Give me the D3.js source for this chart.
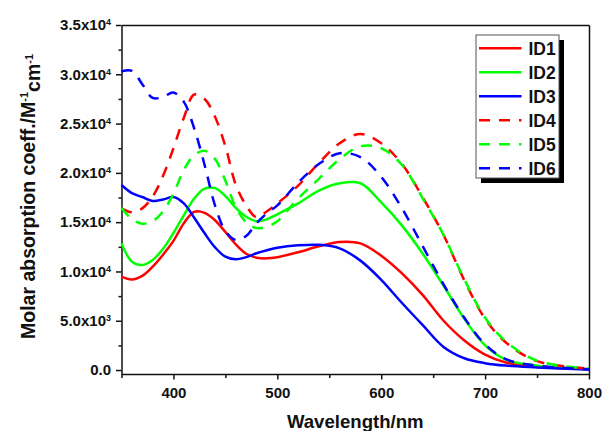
<!DOCTYPE html>
<html>
<head>
<meta charset="utf-8">
<script src="https://cdn.jsdelivr.net/npm/d3@7"></script>
<style>
  html, body { margin: 0; padding: 0; background: #fff; }
  svg { display: block; font-family: "Liberation Sans", Arial, sans-serif; font-weight: bold; }
</style>
</head>
<body>
<div id="chart"></div>
<script>
// wavelength grid (nm) shared by all six spectra
const wavelengths = [350, 360, 370, 380, 390, 400, 410, 420, 430, 440, 450, 460, 470, 480, 490, 500,
  520, 540, 560, 580, 600, 620, 640, 660, 680, 700, 720, 750, 800];

// molar absorption coefficients (M^-1 cm^-1)
const id1 = [9470, 9180, 9550, 10480, 11700, 13100, 14900, 16050, 15950, 15200, 14000, 12750, 11800, 11400, 11330, 11450,
  11950, 12550, 13000, 12850, 11600, 9800, 7600, 5000, 3000, 1570, 760, 330, 60];
const id2 = [12850, 11000, 10650, 11160, 12300, 13900, 15700, 17400, 18400, 18450, 17650, 16450, 15550, 15100, 15300, 15800,
  16900, 18200, 18950, 18950, 17000, 14650, 11800, 8550, 5200, 2500, 1050, 450, 80];
const id3 = [18770, 17950, 17550, 17150, 17300, 17550, 16900, 15450, 13870, 12450, 11500, 11230, 11450, 11850, 12150, 12400,
  12650, 12700, 12350, 11100, 9150, 6800, 4550, 2350, 1200, 700, 450, 270, 50];
const id4 = [16400, 16000, 16400, 17600, 19700, 22500, 25600, 27950, 27500, 25700, 22700, 18800, 16700, 15500, 16100, 16900,
  18700, 21000, 23000, 23950, 23000, 20900, 17500, 13700, 9100, 5200, 2800, 900, 150];
const id5 = [16430, 15300, 14850, 15100, 16100, 17900, 20300, 21800, 22250, 21400, 19200, 16500, 15000, 14400, 14550, 15100,
  17400, 19400, 21400, 22700, 22500, 20800, 17400, 13700, 9200, 5300, 2900, 950, 150];
const id6 = [30300, 30350, 29000, 27600, 27700, 28150, 27200, 24500, 20800, 16700, 14100, 13200, 13600, 14900, 15900, 16700,
  19000, 20900, 22000, 21600, 19600, 16400, 12550, 8700, 5300, 2600, 1100, 450, 80];

const seriesNames = ['ID1', 'ID2', 'ID3', 'ID4', 'ID5', 'ID6'];
const seriesValues = [id1, id2, id3, id4, id5, id6];

const xTicks = [400, 500, 600, 700, 800];
const xMinorTicks = [350, 450, 550, 650, 750];
const yTicks = [0, 5000, 10000, 15000, 20000, 25000, 30000, 35000];
const yMinorTicks = [2500, 7500, 12500, 17500, 22500, 27500, 32500];

const width = 603;
const height = 431;

// colour + dash for each series, by position
const colors = ['#ff0000', '#00ff00', '#0000ff', '#ff0000', '#00ff00', '#0000ff'];
const dashes = [null, null, null, '11,9', '11,9', '11,9'];

const svg = d3.select('#chart').append('svg')
  .attr('width', width)
  .attr('height', height);

const x = d3.scaleLinear().domain([350, 800]).range([121.5, 589]);
const y = d3.scaleLinear().domain([-400, 35000]).range([374, 25]);

// frame: top and right borders
svg.append('g')
  .attr('transform', `translate(0, ${y.range()[1]})`)
  .call(d3.axisTop(x).tickValues([]).tickSizeOuter(0))
  .call((g) => g.select('.domain').attr('stroke', '#111').attr('stroke-width', 1.5));
svg.append('g')
  .attr('transform', `translate(${x.range()[1]}, 0)`)
  .call(d3.axisRight(y).tickValues([]).tickSizeOuter(0))
  .call((g) => g.select('.domain').attr('stroke', '#111').attr('stroke-width', 1.5));

// x axis
svg.append('g')
  .attr('transform', `translate(0, ${y.range()[0]})`)
  .call(d3.axisBottom(x).tickValues(xMinorTicks).tickSize(4).tickSizeOuter(0).tickFormat(''))
  .call((g) => g.select('.domain').remove())
  .call((g) => g.selectAll('.tick line').attr('stroke', '#111').attr('stroke-width', 1.5));
const xAxis = svg.append('g')
  .attr('transform', `translate(0, ${y.range()[0]})`)
  .call(d3.axisBottom(x).tickValues(xTicks).tickSize(5.5).tickSizeOuter(0).tickPadding(8));
xAxis.select('.domain').attr('stroke', '#111').attr('stroke-width', 1.5);
xAxis.selectAll('.tick line').attr('stroke', '#111').attr('stroke-width', 1.5);
xAxis.selectAll('.tick text')
  .attr('fill', '#111')
  .style('font-size', '15px')
  .style('font-family', '"Liberation Sans", Arial, sans-serif')
  .style('font-weight', 'bold');

// y axis
svg.append('g')
  .attr('transform', `translate(${x.range()[0]}, 0)`)
  .call(d3.axisLeft(y).tickValues(yMinorTicks).tickSize(3).tickSizeOuter(0).tickFormat(''))
  .call((g) => g.select('.domain').remove())
  .call((g) => g.selectAll('.tick line').attr('stroke', '#111').attr('stroke-width', 1.5));
const yAxis = svg.append('g')
  .attr('transform', `translate(${x.range()[0]}, 0)`)
  .call(d3.axisLeft(y).tickValues(yTicks).tickSize(5.5).tickSizeOuter(0).tickPadding(5));
yAxis.select('.domain').attr('stroke', '#111').attr('stroke-width', 1.5);
yAxis.selectAll('.tick line').attr('stroke', '#111').attr('stroke-width', 1.5);
yAxis.selectAll('.tick text')
  .attr('fill', '#111')
  .style('font-size', '15px')
  .style('font-family', '"Liberation Sans", Arial, sans-serif')
  .style('font-weight', 'bold')
  .each(function (d) {
    const t = d3.select(this).text('');
    if (d === 0) {
      t.text('0.0');
      return;
    }
    const exp = Math.floor(Math.log10(d));
    const mant = (d / Math.pow(10, exp)).toFixed(1);
    t.append('tspan').text(mant + 'x10');
    t.append('tspan').attr('dy', '-0.55em').style('font-size', '9px').text(exp);
  });

// spectra
const line = d3.line()
  .x((d, i) => x(wavelengths[i]))
  .y((d) => y(d))
  .curve(d3.curveCatmullRom.alpha(0.5));

svg.append('g')
  .selectAll('path')
  .data(seriesValues)
  .join('path')
  .attr('d', line)
  .attr('fill', 'none')
  .attr('stroke', (d, i) => colors[i])
  .attr('stroke-width', 2.5)
  .attr('stroke-dasharray', (d, i) => dashes[i]);

// legend box with drop shadow
const legend = svg.append('g').attr('transform', 'translate(476, 35)');
legend.append('rect')
  .attr('x', 5).attr('y', 5)
  .attr('width', 83).attr('height', 143)
  .attr('fill', '#000');
legend.append('rect')
  .attr('width', 83).attr('height', 143)
  .attr('fill', '#fff')
  .attr('stroke', '#555')
  .attr('stroke-width', 1);

const rows = legend.selectAll('g.row')
  .data(seriesNames)
  .join('g')
  .attr('class', 'row')
  .attr('transform', (d, i) => `translate(0, ${13.3 + i * 24})`);
rows.append('line')
  .attr('x1', 3).attr('x2', 45.5)
  .attr('stroke', (d, i) => colors[i])
  .attr('stroke-width', 2.5)
  .attr('stroke-dasharray', (d, i) => dashes[i]);
rows.append('text')
  .attr('x', 52.5)
  .attr('dy', '0.36em')
  .attr('fill', '#111')
  .style('font-size', '17.5px')
  .text((d) => d);

// axis titles
svg.append('text')
  .attr('x', (x.range()[0] + x.range()[1]) / 2)
  .attr('y', 428)
  .attr('text-anchor', 'middle')
  .attr('fill', '#111')
  .style('font-size', '18.6px')
  .text('Wavelength/nm');

const yTitle = svg.append('text')
  .attr('transform', 'translate(34.5, 196.5) rotate(-90)')
  .attr('text-anchor', 'middle')
  .attr('fill', '#111')
  .style('font-size', '19.5px');
yTitle.append('tspan').text('Molar absorption coeff./M');
yTitle.append('tspan').attr('dy', '-0.6em').style('font-size', '11px').text('-1');
yTitle.append('tspan').attr('dy', '0.6em').text('cm');
yTitle.append('tspan').attr('dy', '-0.6em').style('font-size', '11px').text('-1');
</script>
</body>
</html>
